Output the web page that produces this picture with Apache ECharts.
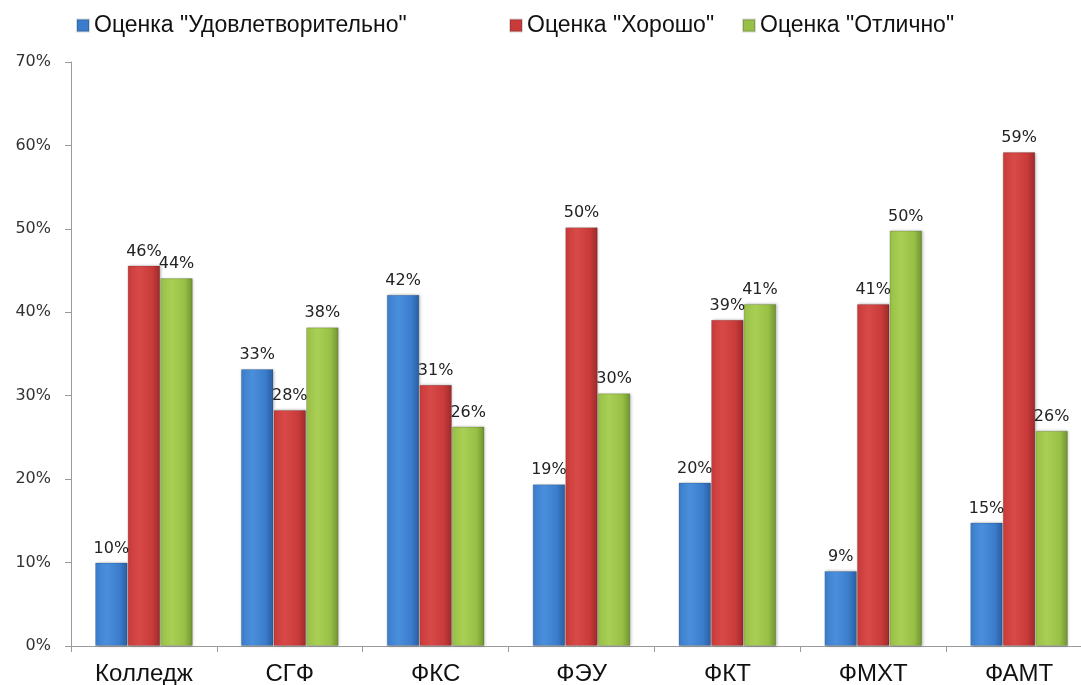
<!doctype html>
<html lang="ru">
<head>
    <meta charset="UTF-8">
    <title>Оценки по факультетам</title>
    <script src="https://cdn.jsdelivr.net/npm/echarts@6/dist/echarts.min.js"></script>
    <style>
        html, body { margin: 0; padding: 0; background: #fff; }
        #main { width: 1081px; height: 685px; }
    </style>
</head>
<body>
<div id="main"></div>
<script>
    // данные
    var categories = ['Колледж', 'СГФ', 'ФКС', 'ФЭУ', 'ФКТ', 'ФМХТ', 'ФАМТ'];
    var seriesNames = ['Оценка "Удовлетворительно"', 'Оценка "Хорошо"', 'Оценка "Отлично"'];
    var satisfactory = [10.0, 33.2, 42.1, 19.4, 19.6, 9.0, 14.8];
    var good = [45.6, 28.3, 31.3, 50.2, 39.1, 41.0, 59.2];
    var excellent = [44.1, 38.2, 26.3, 30.3, 41.0, 49.8, 25.8];
    var yTicks = [0, 10, 20, 30, 40, 50, 60, 70];

    function barColor(light, mid, dark) {
        return new echarts.graphic.LinearGradient(0, 0, 1, 0, [
            {offset: 0, color: mid},
            {offset: 0.35, color: light},
            {offset: 0.75, color: mid},
            {offset: 1, color: dark}
        ]);
    }

    var colors = [
        barColor('#4a8fdc', '#3b7dcc', '#2a5c9e'),
        barColor('#d84a48', '#c93b3a', '#9c2a2a'),
        barColor('#a9cf55', '#99c046', '#6f9230')
    ];
    var legendColors = ['#3b7dcc', '#c93b3a', '#99c046'];
    var legendLeft = [71, 504, 737];

    function makeSeries(i, data) {
        return {
            name: seriesNames[i],
            type: 'bar',
            barGap: 0,
            barCategoryGap: '33%',
            data: data,
            itemStyle: {
                color: colors[i],
                borderColor: 'rgba(0,0,0,0.15)',
                borderWidth: 1,
                shadowColor: 'rgba(0,0,0,0.25)',
                shadowBlur: 3,
                shadowOffsetX: 1
            },
            label: {
                show: true,
                position: 'top',
                distance: 6,
                fontFamily: 'DejaVu Sans',
                fontSize: 16,
                color: '#222',
                formatter: function (p) { return Math.round(p.value) + '%'; }
            }
        };
    }

    // по одной легенде на серию, чтобы расставить как в оригинале
    var legends = seriesNames.map(function (n, i) {
        return {
            top: 9,
            left: legendLeft[i],
            itemWidth: 12,
            itemHeight: 12,
            icon: 'rect',
            textStyle: {fontFamily: 'Liberation Sans', fontSize: 23, color: '#111'},
            data: [{name: n, itemStyle: {color: legendColors[i]}}]
        };
    });

    var myChart = echarts.init(document.getElementById('main'));
    var option = {
        backgroundColor: '#fff',
        animation: false,
        legend: legends,
        grid: {left: 71, width: 1021, top: 62, height: 584, outerBoundsMode: 'none'},
        xAxis: {
            type: 'category',
            data: categories,
            axisLine: {lineStyle: {color: '#9a9a9a'}},
            axisTick: {show: true, length: 6, lineStyle: {color: '#9a9a9a'}},
            axisLabel: {fontFamily: 'Liberation Sans', fontSize: 24, color: '#111', margin: 16}
        },
        yAxis: {
            type: 'value',
            min: yTicks[0],
            max: yTicks[yTicks.length - 1],
            interval: 10,
            axisLine: {show: true, lineStyle: {color: '#9a9a9a'}},
            axisTick: {show: true, length: 6, lineStyle: {color: '#9a9a9a'}},
            splitLine: {show: false},
            axisLabel: {
                fontFamily: 'DejaVu Sans',
                fontSize: 16,
                color: '#333',
                margin: 20,
                formatter: '{value}%'
            }
        },
        series: [
            makeSeries(0, satisfactory),
            makeSeries(1, good),
            makeSeries(2, excellent)
        ]
    };
    myChart.setOption(option);
</script>
</body>
</html>
